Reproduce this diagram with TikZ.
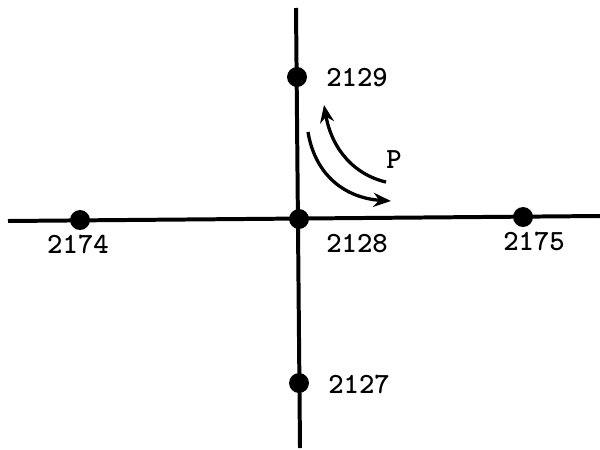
\documentclass[tikz,border=0pt]{standalone}
\usepackage{fontspec}
\usetikzlibrary{arrows.meta}
\begin{document}
\begin{tikzpicture}[x=0.03cm,y=-0.03cm,
  dot/.style={circle,fill=black,inner sep=0pt,minimum size=17pt},
  lbl/.style={font=\ttfamily\bfseries\fontsize{25}{28}\selectfont,inner sep=0pt},
  mainline/.style={line width=3.4pt},
  arc/.style={line width=2.8pt,-{Stealth[length=15pt,width=12pt]}}]
\useasboundingbox (0,0) rectangle (600,449);
\coordinate (top) at (296,8);
\coordinate (bot) at (300,448);
\coordinate (left) at (8,221);
\coordinate (right) at (600,216);
\draw[mainline] (top) -- (bot);
\draw[mainline] (left) -- (right);
\node[dot] (n2129) at (297,77) {};
\node[dot] (n2128) at (299,219) {};
\node[dot] (n2127) at (299,383) {};
\node[dot] (n2174) at (80,220) {};
\node[dot] (n2175) at (523,217) {};
\node[lbl] (l2129) at (357,78) {2129};
\node[lbl] (l2128) at (357,244) {2128};
\node[lbl] (l2127) at (359,384) {2127};
\node[lbl] (l2174) at (78,244) {2174};
\node[lbl] (l2175) at (534,241) {2175};
\node[lbl] (lP) at (394,160) {P};
\coordinate (a1s) at (386,182);
\coordinate (a1e) at (324,105);
\coordinate (a2s) at (308,132);
\coordinate (a2e) at (391,201);
\draw[arc] (a1s) .. controls (355,175) and (332,150) .. (a1e);
\draw[arc] (a2s) .. controls (315,175) and (345,198) .. (a2e);
\end{tikzpicture}
\end{document}
